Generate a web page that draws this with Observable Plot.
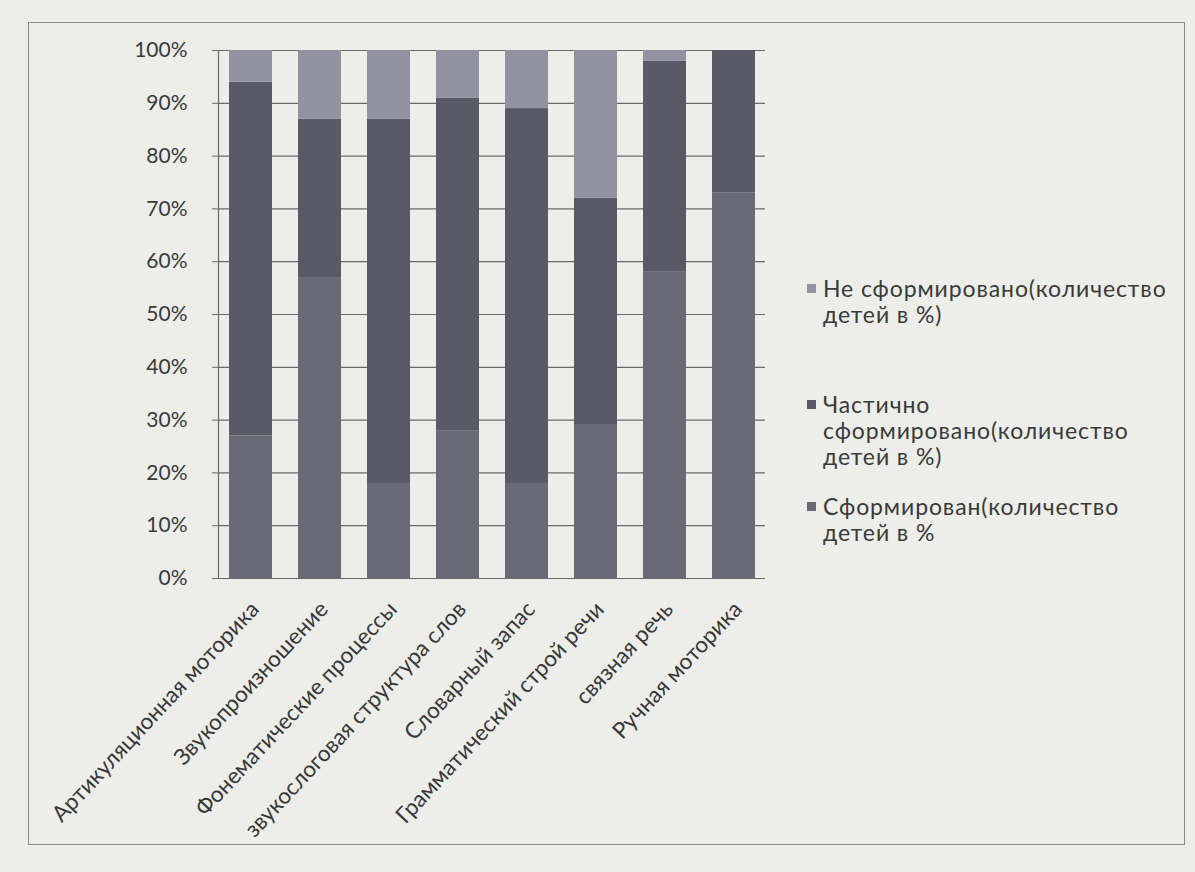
<!DOCTYPE html>
<html>
<head>
<meta charset="utf-8">
<script src="https://cdn.jsdelivr.net/npm/d3@7"></script>
<script src="https://cdn.jsdelivr.net/npm/@observablehq/plot@0.6"></script>
<style>
  html, body { margin: 0; padding: 0; background: #edede9; }
  #wrap { position: relative; width: 1195px; height: 872px; overflow: hidden; font-family: Lato, "Open Sans", sans-serif; }
  #frame { position: absolute; left: 28px; top: 22px; width: 1157px; height: 823px; border: 1px solid #8a8a8a; box-sizing: border-box; }
  #chart { position: absolute; left: 0; top: 0; }
  #legend { position: absolute; left: 806px; top: 275px; width: 385px; color: #3a3a3a; font-size: 23px; line-height: 26px; letter-spacing: 0.9px; }
  .item { position: relative; padding-left: 17px; white-space: nowrap; }
  .sw { position: absolute; left: 1px; top: 9px; width: 9px; height: 9px; }
</style>
</head>
<body>
<div id="wrap">
  <div id="frame"></div>
  <div id="chart"></div>
  <div id="legend"></div>
</div>
<script>
const categories = [
  "Артикуляционная моторика",
  "Звукопроизношение",
  "Фонематические процессы",
  "звукослоговая структура слов",
  "Словарный запас",
  "Грамматический строй речи",
  "связная речь",
  "Ручная моторика"
];
const seriesNames = [
  "Сформирован(количество детей в %",
  "Частично сформировано(количество детей в %)",
  "Не сформировано(количество детей в %)"
];
const sformirovan = [27, 57, 18, 28, 18, 29, 58, 73];
const chastichno  = [67, 30, 69, 63, 71, 43, 40, 27];
const neSform     = [6, 13, 13, 9, 11, 28, 2, 0];
const yTicks = [0, 10, 20, 30, 40, 50, 60, 70, 80, 90, 100];
const colors = ["#6a6a76", "#5a5a66", "#9292a0"];

const seriesValues = [sformirovan, chastichno, neSform];
const rows = [];
categories.forEach((c, i) => {
  seriesNames.forEach((s, j) => rows.push({category: c, series: s, value: seriesValues[j][i]}));
});

const chart = Plot.plot({
  width: 1195,
  height: 872,
  marginLeft: 218,
  marginRight: 430,
  marginTop: 50,
  marginBottom: 294,
  style: {background: "transparent", fontFamily: "Lato, 'Open Sans', sans-serif"},
  x: {domain: categories, paddingInner: 0.38, paddingOuter: 0.1, label: null},
  y: {domain: [0, 100], label: null},
  color: {domain: seriesNames, range: colors},
  marks: [
    Plot.gridY(yTicks, {stroke: "#6a6a6a", strokeOpacity: 1, strokeWidth: 1.2}),
    Plot.frame({anchor: "left", stroke: "#6a6a6a", strokeWidth: 1.2}),
    Plot.axisY({ticks: yTicks, tickFormat: d => d + "%", tickSize: 6, tickPadding: 25, fontSize: 21, fill: "#3a3a3a", stroke: "#6a6a6a", label: null}),
    Plot.barY(rows, Plot.stackY({x: "category", y: "value", fill: "series", order: seriesNames})),
    Plot.axisX({tickRotate: -47, tickSize: 0, tickPadding: 27, fontSize: 22.5, fill: "#383838", label: null, dx: 4})
  ]
});
document.getElementById("chart").appendChild(chart);

const legendOrder = [
  {idx: 2, lines: ["Не сформировано(количество", "детей в %)"], top: 0},
  {idx: 1, lines: ["Частично", "сформировано(количество", "детей в %)"], top: 116},
  {idx: 0, lines: ["Сформирован(количество", "детей в %"], top: 218}
];
const legend = document.getElementById("legend");
legendOrder.forEach(item => {
  const d = document.createElement("div");
  d.className = "item";
  d.style.position = "absolute";
  d.style.top = item.top + "px";
  const sw = document.createElement("span");
  sw.className = "sw";
  sw.style.background = colors[item.idx];
  d.appendChild(sw);
  d.insertAdjacentHTML("beforeend", item.lines.join("<br>"));
  legend.appendChild(d);
});
</script>
</body>
</html>
